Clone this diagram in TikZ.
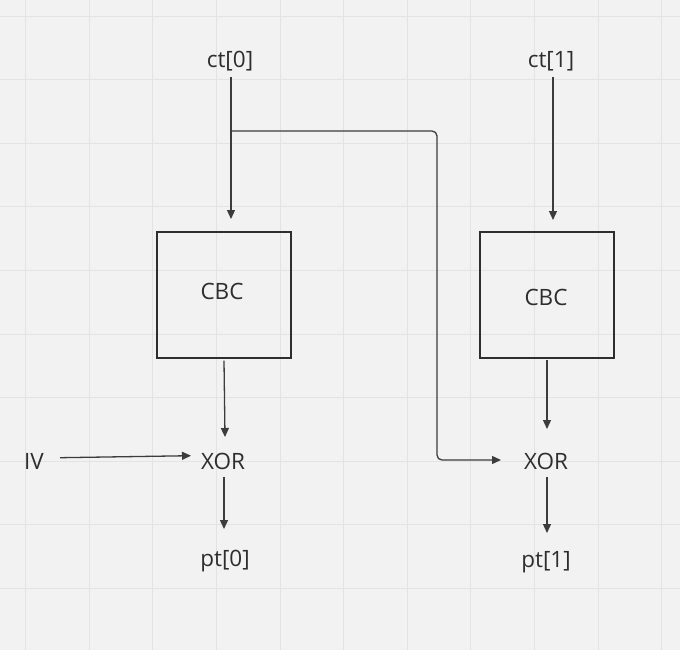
\documentclass[tikz,border=0pt]{standalone}
\usepackage{fontspec}
\setmainfont{Open Sans}
\usetikzlibrary{arrows.meta}
\definecolor{bg}{HTML}{F2F2F2}
\definecolor{gridc}{HTML}{E3E3E3}
\definecolor{ink}{HTML}{2E2E2E}
\definecolor{wire}{HTML}{3C3C3C}
\tikzset{
  lbl/.style={inner sep=0pt, text=ink, font=\fontsize{22.5}{27}\selectfont},
  blockbox/.style={draw=ink, line width=1.1pt, minimum width=134pt, minimum height=126pt, inner sep=0pt},
  arr/.style={draw=wire, line width=1.3pt, -{Triangle[length=9pt,width=8pt]}},
}
\begin{document}
\begin{tikzpicture}[x=1pt,y=-1pt]
\useasboundingbox (0,0) rectangle (680,650);
\fill[bg] (0,0) rectangle (680,650);
% grid
\foreach \gx in {25.5,89.1,152.7,216.3,279.9,343.5,407.1,470.7,534.3,597.9,661.5}
  \draw[gridc, line width=0.8pt] (\gx,0) -- (\gx,650);
\foreach \gy in {16,79.6,143.2,206.8,270.4,334,397.6,461.2,524.8,588.4}
  \draw[gridc, line width=0.8pt] (0,\gy) -- (680,\gy);

% nodes
\node[lbl] (ct0) at (230,61.5) {ct[0]};
\node[lbl] (ct1) at (551,61.5) {ct[1]};
\node[blockbox] (cbc1) at (224,295) {};
\node[lbl] (cbc1t) at (222,291) {CBC};
\node[blockbox] (cbc2) at (547,295) {};
\node[lbl] (cbc2t) at (546,297) {CBC};
\node[lbl] (iv) at (34,461) {IV};
\node[lbl] (xor1) at (223,461) {XOR};
\node[lbl] (xor2) at (546,461) {XOR};
\node[lbl] (pt0) at (225,561) {pt[0]};
\node[lbl] (pt1) at (546,562) {pt[1]};

% connector coordinates
\coordinate (c0s) at (231,77);
\coordinate (c0e) at (231,219);
\coordinate (br) at (231,131);
\coordinate (brx) at (437,131);
\coordinate (bry) at (437,460);
\coordinate (x2w) at (501,460);

\draw[arr] (c0s) -- (c0e);
\draw[draw=wire, line width=1.3pt, rounded corners=5pt, -{Triangle[length=9pt,width=8pt]}]
  (br) -- (brx) -- (bry) -- (x2w);
\draw[arr] (553,77) -- (553,220);
\draw[arr] (cbc1.south -| 224,0) ++(0,2) -- (225,437);
\draw[arr] (60,457.7) -- (191,455.7);
\draw[arr] (224,477) -- (224,529);
\draw[arr] (547,360) -- (547,429);
\draw[arr] (547,477) -- (547,533);
\end{tikzpicture}
\end{document}
